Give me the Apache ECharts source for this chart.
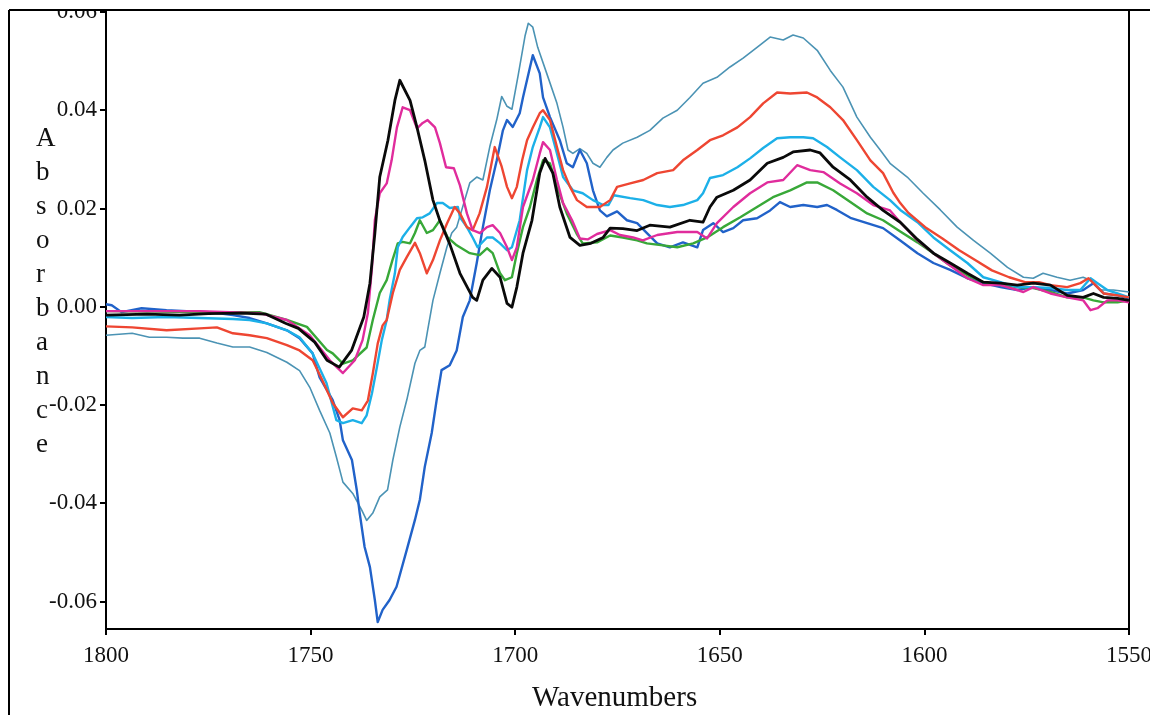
<!DOCTYPE html>
<html>
<head>
<meta charset="utf-8">
<script src="https://cdn.jsdelivr.net/npm/echarts@6/dist/echarts.min.js"></script>
<style>
html,body{margin:0;padding:0;background:#fff;}
#chart{width:1150px;height:715px;}
</style>
</head>
<body>
<div id="chart"></div>
<script>
// Wavenumber axis ticks and absorbance ticks
const xTicks = [1800, 1750, 1700, 1650, 1600, 1550];
const yTicks = [-0.06, -0.04, -0.02, 0.00, 0.02, 0.04, 0.06];

// Each series: [wavenumber (cm-1), absorbance]
const blackSeries = [[1800,-0.0017],[1790,-0.0015],[1782,-0.0017],[1775,-0.0014],[1767,-0.0013],[1761,-0.0015],[1756,-0.0034],[1753,-0.0044],[1749,-0.0072],[1746,-0.0109],[1743,-0.0123],[1740,-0.0089],[1737,-0.0021],[1735.5,0.0048],[1734.3,0.0149],[1733.1,0.0264],[1731.1,0.0339],[1729.4,0.042],[1728.2,0.0461],[1725.7,0.042],[1724,0.0365],[1722.1,0.0298],[1720.1,0.0217],[1718.4,0.0175],[1716,0.0128],[1713.5,0.0068],[1710.4,0.0019],[1709.4,0.0013],[1707.9,0.0054],[1705.7,0.0078],[1703.7,0.006],[1702,0.0007],[1700.8,-0.0001],[1699.6,0.004],[1698.1,0.0109],[1695.9,0.0176],[1694,0.0272],[1692.7,0.0302],[1690.8,0.0272],[1689.1,0.0203],[1686.6,0.0141],[1684.2,0.0125],[1681.5,0.0129],[1678.5,0.0141],[1676.8,0.016],[1673.7,0.0159],[1670.2,0.0155],[1667.1,0.0166],[1662.2,0.0162],[1657.3,0.0176],[1654.1,0.0172],[1652.4,0.0203],[1650.7,0.0223],[1646.7,0.0237],[1642.6,0.0258],[1638.4,0.0292],[1634.5,0.0304],[1632.1,0.0315],[1627.9,0.0319],[1625.5,0.0313],[1622.3,0.0284],[1618.1,0.0258],[1614,0.0223],[1610.1,0.0196],[1605.9,0.0172],[1601.7,0.0137],[1597.8,0.0109],[1593.7,0.0089],[1589.5,0.0068],[1585.6,0.005],[1581.4,0.0048],[1577.3,0.0044],[1573.4,0.0048],[1569.2,0.0044],[1565.1,0.0023],[1561.2,0.0019],[1558.7,0.0027],[1556.2,0.0019],[1552.8,0.0017],[1550,0.0013]];

const magentaSeries = [[1800,-0.0009],[1777.1,-0.0009],[1762.5,-0.0013],[1755.8,-0.0027],[1750.2,-0.0058],[1745.3,-0.0109],[1742.1,-0.0135],[1739.2,-0.0109],[1737.3,-0.0068],[1736,-0.0013],[1735,0.008],[1734.3,0.0176],[1733.1,0.0231],[1731.4,0.0251],[1730.2,0.0298],[1728.9,0.0365],[1727.5,0.0406],[1725.7,0.04],[1724,0.0363],[1722.6,0.0374],[1721.4,0.038],[1719.6,0.0365],[1718.4,0.0333],[1716.9,0.0284],[1715,0.0282],[1713.5,0.0247],[1711.8,0.019],[1710.4,0.0156],[1708.6,0.015],[1706.9,0.0162],[1705.5,0.0166],[1703.7,0.015],[1702,0.0121],[1700.8,0.0095],[1699.6,0.0121],[1698.1,0.0203],[1695.7,0.0258],[1694,0.0312],[1693.2,0.0335],[1691.5,0.0319],[1689.8,0.0258],[1688.3,0.0211],[1686.1,0.0176],[1684.2,0.0139],[1682.3,0.0137],[1680,0.0148],[1676.8,0.0156],[1674.4,0.0146],[1671.2,0.0141],[1668.8,0.0135],[1665.3,0.0146],[1660.4,0.0152],[1655.5,0.0152],[1653.1,0.0139],[1650.7,0.017],[1646.7,0.0203],[1642.6,0.0231],[1638.4,0.0253],[1634.5,0.0258],[1631.1,0.0288],[1627.9,0.0278],[1624.7,0.0274],[1620.6,0.0251],[1616.5,0.0231],[1612.5,0.0207],[1608.4,0.0196],[1605.9,0.0172],[1601.7,0.0135],[1597.8,0.0109],[1593.7,0.0084],[1589.5,0.0058],[1585.6,0.0044],[1581.4,0.0044],[1577.3,0.0034],[1575.8,0.003],[1573.4,0.004],[1569.2,0.0027],[1565.1,0.0019],[1561.2,0.0013],[1559.4,-0.0007],[1557.7,-0.0003],[1555.3,0.0013],[1552.8,0.0013],[1550,0.0009]];

const greenSeries = [[1800,-0.0009],[1777,-0.0011],[1762.5,-0.0011],[1755.8,-0.0027],[1750.9,-0.0041],[1746,-0.0088],[1744.6,-0.0095],[1742.1,-0.0116],[1739.7,-0.0109],[1736.3,-0.0083],[1734.8,-0.0027],[1733.1,0.0028],[1731.4,0.0054],[1730,0.0095],[1728.7,0.0129],[1727.5,0.0132],[1725.7,0.0129],[1724.5,0.015],[1723.3,0.0176],[1721.6,0.015],[1720.1,0.0156],[1718.4,0.0176],[1716.5,0.0141],[1714.3,0.0125],[1713.5,0.0121],[1711.1,0.0109],[1708.7,0.0105],[1706.9,0.0119],[1705.5,0.0109],[1703.7,0.0068],[1702.5,0.0054],[1700.8,0.006],[1699.6,0.0109],[1698.1,0.0162],[1696.4,0.0203],[1694.7,0.0258],[1693.2,0.0298],[1691.5,0.0292],[1689.8,0.0244],[1687.4,0.019],[1685,0.0149],[1683.5,0.0129],[1680,0.0131],[1676.8,0.0145],[1673.7,0.0141],[1670.2,0.0135],[1667.8,0.0129],[1663.9,0.0125],[1660.4,0.0121],[1656.5,0.0129],[1653.1,0.0141],[1649.2,0.0162],[1645,0.0182],[1640.9,0.0203],[1637,0.0223],[1632.8,0.0237],[1628.7,0.0253],[1626.2,0.0253],[1622.3,0.0237],[1618.1,0.0213],[1614,0.019],[1610.1,0.0176],[1605.9,0.0153],[1601.7,0.0131],[1597.8,0.0109],[1593.7,0.0084],[1589.5,0.0064],[1585.6,0.005],[1581.4,0.0044],[1577.3,0.004],[1573.4,0.0038],[1569.2,0.003],[1565.1,0.0019],[1561.2,0.0019],[1558.7,0.0013],[1556.2,0.0009],[1552.8,0.0009],[1550,0.0013]];

const redSeries = [[1800,-0.004],[1793.6,-0.0042],[1785.2,-0.0048],[1777.1,-0.0044],[1772.9,-0.0042],[1769,-0.0054],[1764.9,-0.0058],[1760.7,-0.0064],[1755.8,-0.0078],[1752.7,-0.0089],[1749.5,-0.0109],[1747.1,-0.015],[1744.6,-0.0196],[1742.1,-0.0225],[1739.7,-0.0207],[1737.5,-0.0211],[1736,-0.0191],[1734.8,-0.0136],[1733.6,-0.0075],[1732.4,-0.0038],[1731.4,-0.0027],[1729.9,0.0028],[1728.2,0.0075],[1726.5,0.0101],[1724.5,0.013],[1723.3,0.0109],[1721.6,0.0068],[1720.1,0.0095],[1718.4,0.0135],[1716.7,0.0169],[1714.8,0.0203],[1713.5,0.019],[1711.8,0.0162],[1710.4,0.0156],[1708.7,0.019],[1706.9,0.0244],[1705,0.0325],[1703.3,0.0285],[1702,0.0244],[1700.8,0.0221],[1699.6,0.0244],[1698.3,0.0298],[1697.1,0.0339],[1695.7,0.0365],[1694,0.0394],[1693.2,0.04],[1691.5,0.038],[1689.8,0.0325],[1688.3,0.0278],[1686.6,0.0244],[1684.9,0.0217],[1682.5,0.0203],[1679.3,0.0203],[1676.8,0.0217],[1675.1,0.0244],[1671.9,0.0251],[1668.7,0.0258],[1665.3,0.0272],[1661.4,0.0278],[1659,0.0298],[1655.5,0.0319],[1652.4,0.0339],[1649.2,0.0349],[1645.7,0.0365],[1642.6,0.0386],[1639.4,0.0414],[1636,0.0436],[1632.8,0.0434],[1628.7,0.0436],[1626.2,0.0426],[1623,0.0406],[1619.9,0.038],[1616.5,0.0339],[1613.2,0.0298],[1610.1,0.0272],[1607.6,0.0232],[1605.9,0.0211],[1603.9,0.0191],[1599.8,0.0162],[1595.6,0.0139],[1591.5,0.0115],[1587.6,0.0095],[1583.5,0.0074],[1579.3,0.006],[1575.4,0.005],[1572,0.005],[1569.2,0.0044],[1565.1,0.004],[1561.9,0.0048],[1559.9,0.0058],[1558.7,0.0048],[1556.2,0.0027],[1552.8,0.0023],[1550,0.0019]];

const lightBlueSeries = [[1800,-0.0021],[1793.6,-0.0023],[1785.2,-0.0021],[1777.1,-0.0023],[1769,-0.0025],[1764.9,-0.0027],[1760.7,-0.0034],[1755.8,-0.0048],[1752.7,-0.0062],[1749.5,-0.0095],[1746.1,-0.0156],[1743.7,-0.0231],[1742.1,-0.0237],[1739.7,-0.0231],[1737.5,-0.0237],[1736.3,-0.0221],[1735,-0.0176],[1733.8,-0.0123],[1732.6,-0.0068],[1731.4,-0.0027],[1730.7,0.0013],[1729.4,0.0068],[1728.7,0.0121],[1727.5,0.0142],[1725.7,0.0162],[1724,0.018],[1722.6,0.0182],[1720.9,0.019],[1719.1,0.0211],[1717.7,0.0211],[1716,0.0201],[1714,0.0203],[1713.5,0.0182],[1711.8,0.0162],[1710.4,0.0141],[1709.2,0.0121],[1706.9,0.0141],[1705.5,0.0141],[1703.7,0.0129],[1702,0.0115],[1700.8,0.0121],[1698.9,0.0176],[1697.1,0.0278],[1695.7,0.0325],[1694,0.0365],[1693.2,0.0386],[1691.5,0.0365],[1689.8,0.0312],[1688.3,0.0264],[1685.9,0.0237],[1683.5,0.0231],[1681,0.0217],[1678.5,0.0207],[1677.2,0.0207],[1675.9,0.0227],[1671.9,0.0221],[1668.7,0.0217],[1665.3,0.0207],[1662.2,0.0203],[1659,0.0207],[1655.5,0.0217],[1654.1,0.0231],[1652.4,0.0262],[1649.2,0.0268],[1645.7,0.0284],[1642.6,0.0302],[1639.4,0.0323],[1636,0.0343],[1632.8,0.0345],[1629.6,0.0345],[1627.2,0.0343],[1623.8,0.0325],[1620.6,0.0304],[1616.5,0.0278],[1612.5,0.0244],[1608.4,0.0217],[1605.9,0.0197],[1601.7,0.0172],[1597.8,0.0141],[1593.7,0.0115],[1589.5,0.0089],[1585.6,0.006],[1581.4,0.005],[1577.3,0.004],[1573.4,0.004],[1569.2,0.0038],[1565.1,0.0034],[1561.9,0.0034],[1559.4,0.0058],[1557.7,0.0048],[1555.3,0.0034],[1552.8,0.0027],[1550,0.0019]];

const darkBlueSeries = [[1800,0.0005],[1798.6,0.0003],[1796.2,-0.0011],[1791.3,-0.0003],[1785.2,-0.0007],[1780.3,-0.0009],[1774.7,-0.0011],[1769,-0.0017],[1764.9,-0.0023],[1760.7,-0.0034],[1755.8,-0.0048],[1752.7,-0.0064],[1749.5,-0.0095],[1747.8,-0.0144],[1744.6,-0.019],[1742.9,-0.0231],[1742.1,-0.0272],[1739.9,-0.0312],[1738.7,-0.0374],[1738,-0.042],[1736.8,-0.0489],[1735.5,-0.053],[1734.3,-0.0597],[1733.6,-0.0642],[1732.4,-0.0617],[1730.7,-0.0597],[1729,-0.057],[1726.5,-0.0495],[1724.5,-0.0434],[1723.3,-0.0393],[1722.1,-0.0326],[1720.4,-0.0257],[1719.2,-0.019],[1718,-0.0129],[1716,-0.0119],[1714.3,-0.0089],[1712.8,-0.0021],[1711.1,0.0013],[1709.4,0.0089],[1707.9,0.0162],[1706.2,0.0237],[1704.5,0.0298],[1703,0.0359],[1702,0.038],[1700.6,0.0366],[1698.9,0.0394],[1698.1,0.0426],[1696.4,0.0487],[1695.7,0.0512],[1694,0.0475],[1693.2,0.0426],[1691.5,0.0386],[1689.1,0.0339],[1687.4,0.0292],[1685.9,0.0284],[1684.2,0.0319],[1682.5,0.0292],[1681,0.0237],[1679.3,0.0196],[1677.6,0.0184],[1675.1,0.0194],[1672.7,0.0176],[1670.2,0.017],[1667.8,0.015],[1665.3,0.0129],[1662.2,0.0121],[1659,0.0131],[1655.5,0.0121],[1654.1,0.0156],[1651.6,0.017],[1649.2,0.0152],[1646.7,0.016],[1644.3,0.0176],[1640.9,0.018],[1637.7,0.0196],[1635.3,0.0213],[1632.8,0.0203],[1629.6,0.0207],[1626.2,0.0203],[1623.8,0.0207],[1621.4,0.0197],[1618.1,0.0181],[1614,0.017],[1610.1,0.016],[1605.9,0.0135],[1601.7,0.0109],[1597.8,0.0089],[1593.7,0.0075],[1589.5,0.0058],[1585.6,0.0048],[1581.4,0.004],[1577.3,0.0034],[1573.4,0.004],[1569.2,0.0034],[1565.1,0.0027],[1561.2,0.0034],[1558.7,0.0048],[1556.2,0.0027],[1552.8,0.0023],[1550,0.0017]];

const tealSeries = [[1800,-0.0058],[1793.6,-0.0054],[1789.4,-0.0062],[1785.2,-0.0062],[1781.2,-0.0064],[1777.1,-0.0064],[1772.9,-0.0074],[1769,-0.0082],[1764.9,-0.0082],[1760.7,-0.0093],[1755.8,-0.0113],[1752.7,-0.013],[1750.2,-0.0164],[1747.8,-0.0211],[1745.3,-0.0257],[1743.7,-0.0306],[1742.1,-0.0357],[1739.7,-0.038],[1737.5,-0.0414],[1736.3,-0.0435],[1734.8,-0.042],[1733.1,-0.0387],[1731.2,-0.0373],[1729.9,-0.0312],[1728.2,-0.0245],[1726.5,-0.019],[1724.5,-0.0115],[1723.3,-0.0089],[1722.1,-0.0082],[1721.4,-0.0048],[1720.1,0.0013],[1718.4,0.0068],[1716.7,0.0121],[1715.5,0.015],[1714.3,0.0162],[1711.1,0.0252],[1709.4,0.0264],[1707.9,0.0258],[1706.2,0.0326],[1704.5,0.0381],[1703.3,0.0428],[1702,0.0408],[1700.8,0.0402],[1699.3,0.047],[1697.6,0.0551],[1696.8,0.0577],[1695.7,0.0569],[1694.5,0.0528],[1692.3,0.0475],[1689.8,0.0414],[1688.3,0.0365],[1687.1,0.0319],[1685.9,0.0312],[1684.2,0.0322],[1682.5,0.0312],[1681,0.0292],[1679.3,0.0284],[1677.6,0.0304],[1676.1,0.0319],[1673.7,0.0333],[1670.2,0.0345],[1667.1,0.0359],[1663.9,0.0384],[1660.4,0.04],[1657.3,0.0426],[1654.1,0.0455],[1650.7,0.0467],[1647.5,0.0488],[1644.3,0.0506],[1640.9,0.0528],[1637.7,0.0549],[1634.5,0.0543],[1632.1,0.0553],[1629.6,0.0547],[1626.2,0.0522],[1623,0.0481],[1619.9,0.0447],[1616.5,0.0386],[1613.2,0.0345],[1610.8,0.0319],[1608.4,0.0292],[1604.2,0.0264],[1600.3,0.0231],[1596.1,0.0197],[1592,0.0162],[1588,0.0135],[1583.9,0.0109],[1579.7,0.008],[1575.8,0.006],[1573.4,0.0058],[1571,0.0068],[1567.6,0.006],[1564.4,0.0054],[1561.2,0.006],[1559.4,0.0054],[1557,0.0034],[1553.8,0.0034],[1550,0.003]];

const serif = '"Liberation Serif","DejaVu Serif",serif';

function line(name, data, color, width, z) {
  return { name, type: 'line', data, showSymbol: false, symbol: 'none', z: z,
    lineStyle: { color, width, join: 'round' }, itemStyle: { color } };
}

const chart = echarts.init(document.getElementById('chart'), null, { renderer: 'canvas' });
chart.setOption({
  animation: false,
  backgroundColor: '#ffffff',
  grid: { left: 106, right: 21, top: 10, bottom: 86, show: true, borderColor: '#000', borderWidth: 2,
    backgroundColor: 'transparent', containLabel: false, outerBoundsMode: 'none' },
  xAxis: {
    type: 'value', inverse: true, min: 1550, max: 1800, interval: 50,
    axisLine: { show: true, onZero: false, lineStyle: { color: '#000', width: 2 } },
    axisTick: { show: true, inside: false, length: 6, lineStyle: { color: '#000', width: 2 } },
    axisLabel: { color: '#111', fontFamily: serif, fontSize: 23, margin: 15,
      customValues: xTicks, formatter: v => String(v) },
    splitLine: { show: false }
  },
  yAxis: {
    type: 'value', min: -0.0656, max: 0.0604,
    axisLine: { show: true, onZero: false, lineStyle: { color: '#000', width: 2 } },
    axisTick: { show: true, length: 6, customValues: yTicks, lineStyle: { color: '#000', width: 2 } },
    axisLabel: { color: '#111', fontFamily: serif, fontSize: 23, margin: 9,
      customValues: yTicks, formatter: v => v.toFixed(2) },
    splitLine: { show: false }
  },
  series: [
    line('teal', tealSeries, '#4b93b4', 1.6, 2),
    line('darkblue', darkBlueSeries, '#2162c9', 2.4, 3),
    line('green', greenSeries, '#38a838', 2.4, 4),
    line('lightblue', lightBlueSeries, '#1cb0e8', 2.4, 5),
    line('red', redSeries, '#ee4632', 2.4, 6),
    line('magenta', magentaSeries, '#e02c9c', 2.4, 7),
    line('black', blackSeries, '#0a0a0a', 2.8, 8)
  ],
  graphic: [
    { type: 'rect', z: 100, silent: true, shape: { x: 0, y: 0, width: 1150, height: 9 }, style: { fill: '#ffffff' } },
    { type: 'line', z: 101, silent: true, shape: { x1: 9, y1: 10, x2: 1150, y2: 10 }, style: { stroke: '#000', lineWidth: 2 } },
    { type: 'line', z: 101, silent: true, shape: { x1: 9, y1: 10, x2: 9, y2: 715 }, style: { stroke: '#000', lineWidth: 2 } },
    { type: 'text', z: 50, silent: true, left: 36, top: 122,
      style: { text: 'A\nb\ns\no\nr\nb\na\nn\nc\ne', font: '27px ' + serif, fill: '#111', lineHeight: 34, align: 'center', width: 26 } },
    { type: 'text', z: 50, silent: true, left: 532, top: 684,
      style: { text: 'Wavenumbers', font: '29px ' + serif, fill: '#111' } }
  ]
});
</script>
</body>
</html>
